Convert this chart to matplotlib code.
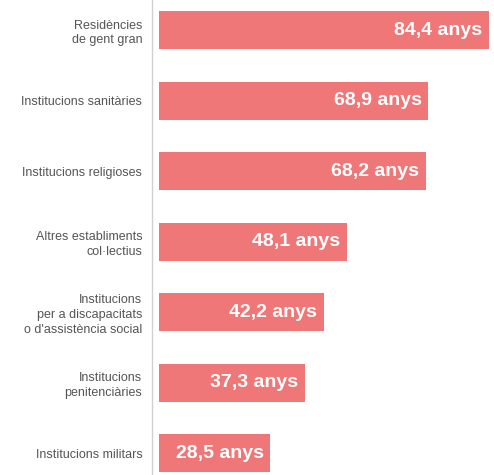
import matplotlib.pyplot as plt

categories = [
    "Residències\nde gent gran",
    "Institucions sanitàries",
    "Institucions religioses",
    "Altres establiments\ncol·lectius",
    "Institucions\nper a discapacitats\no d'assistència social",
    "Institucions\npenitenciàries",
    "Institucions militars",
]
values = [84.4, 68.9, 68.2, 48.1, 42.2, 37.3, 28.5]
value_labels = ["84,4 anys", "68,9 anys", "68,2 anys", "48,1 anys",
                "42,2 anys", "37,3 anys", "28,5 anys"]

bar_color = "#EF7777"

fig = plt.figure(figsize=(4.94, 4.75), dpi=100)
ax = fig.add_axes([152 / 494, 0, 342 / 494, 1])

pos = list(range(len(categories)))
ax.barh(pos, values, height=0.54, color=bar_color)

for p, v, lab in zip(pos, values, value_labels):
    ax.text(v - 1.7, p, lab, ha="right", va="center", color="white",
            fontsize=14, fontweight="bold", family="Liberation Sans")

ax.set_xlim(-1.8, 85.7)
ax.set_ylim(6.31, -0.426)

ax.set_yticks(pos)
ax.set_yticklabels(categories, fontsize=9, color="#555555",
                   family="Liberation Sans", linespacing=1.3)
ax.tick_params(axis="y", length=0, pad=7)
ax.set_xticks([])

for s in ["top", "right", "bottom"]:
    ax.spines[s].set_visible(False)
ax.spines["left"].set_color("#d0d0d0")
ax.spines["left"].set_linewidth(1)

fig.savefig("out.png", dpi=100)
